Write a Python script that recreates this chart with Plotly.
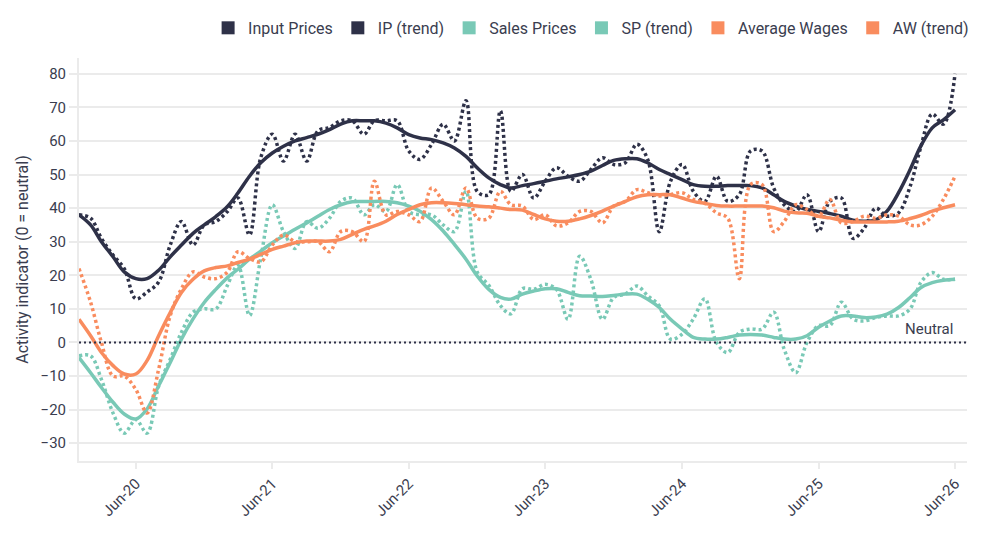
import pandas as pd
import plotly.graph_objects as go

# Monthly observations, Jan-2020 .. Jun-2026
months = pd.date_range("2020-01-01", "2026-06-01", freq="MS")

input_prices = [38, 37, 31, 26, 22, 13, 15, 18, 29, 36, 29, 35, 36, 39,
                43, 32, 55, 62, 54, 62, 54, 63, 64, 66, 66, 62,
                66, 66, 66, 57, 54.5, 59, 65, 60, 72, 45, 44, 69, 45,
                50, 43, 48, 52, 49.5, 48, 51.5, 55, 53, 53.5, 59, 54.5, 33,
                48, 53, 45, 42, 49.5, 42, 44, 57, 57, 46, 41, 39,
                44, 33, 42, 43, 31, 34, 40, 37.6, 38.6, 46.5, 58, 68, 65, 80]
ip_trend = [38, 35, 30, 25.5, 21, 19, 19, 21.5, 25.5, 29, 32.5, 35, 37.5, 40.5,
            44.5, 49.5, 53.5, 56.4, 58.4, 60, 61, 62, 63.4, 65, 66, 66,
            66, 65.3, 63.9, 61.9, 60.9, 60.4, 59.4, 57.9, 55.4, 52, 49, 47, 46,
            46.7, 47.3, 48, 48.7, 49.3, 50, 51, 52.7, 54.2, 54.7, 54.7, 53.5, 51.5,
            50, 48.5, 47, 46.5, 46.5, 46.7, 46.7, 46.7, 46, 44, 42, 40.6,
            39.6, 39, 38.4, 37.6, 36.4, 36.1, 36.5, 39.1, 44.6, 51.5, 58.4, 63.9, 66.3, 69.3]
sales_prices = [-4, -4, -11, -21, -27, -23, -27, -13, -5, 3, 9, 10, 10, 17,
                23, 8, 25, 41, 33, 28, 36, 34, 37, 42, 43, 38,
                41, 39, 47, 39, 38, 38, 35, 33, 45, 21, 17, 11, 8.5,
                16, 15.8, 17.3, 15.8, 6.9, 25.7, 18.8, 6.9, 13.4, 14.4, 16.8, 13.9, 10.9,
                1, 2.5, 7, 13, 0, -3, 3, 4, 4, 9, -2, -9,
                0, 5, 5, 12, 7, 6.4, 7.4, 7.9, 7.9, 10, 17.8, 20.8, 18.8, 18.8]
sp_trend = [-4.5, -9, -13.4, -17.8, -21.3, -22.8, -19.8, -12.9, -6, 1, 7, 11.9, 15.8, 19.3,
            21.8, 24.8, 27.2, 29.7, 31.7, 33.7, 35.6, 37.6, 39.6, 41, 41.9, 42,
            42, 42, 41.6, 40.6, 39.1, 36.6, 33.2, 29.2, 24.8, 19.8, 15.8, 13.4, 12.9,
            14.4, 15.3, 16, 16, 14.9, 13.9, 13.8, 13.7, 14, 14.4, 14.4, 12.9, 10.4,
            6.9, 4, 1.5, 1, 1, 1.5, 2.2, 2.4, 2.2, 1.5, 1, 1,
            2, 4.5, 6.4, 7.9, 7.9, 7.4, 7.6, 8.4, 10.4, 13.4, 16.3, 17.8, 18.5, 18.8]
average_wages = [22, 12, 0, -10, -10, -14, -21, -8, 8, 16, 21, 19.5, 19, 21,
                 27, 25, 24, 29, 32, 30, 30, 30, 27, 33, 33, 30,
                 48, 38, 39, 38, 36, 46, 42, 38, 46, 37, 37, 45, 41,
                 40.6, 36.6, 38, 34.7, 35.6, 39, 39, 35.6, 40.6, 42, 45.5, 44.6, 43.6,
                 44, 44.6, 42.6, 41.5, 38.6, 37, 19, 47, 47, 33, 36, 41,
                 39.6, 37.6, 42.6, 35.6, 36, 37.6, 37, 38, 37.6, 35, 35, 37.6, 42.6, 49.5]
aw_trend = [6.9, 2, -3, -6.9, -9.4, -9.4, -5.4, 2, 8.9, 14.9, 18.8, 21.3, 22.3, 22.8,
            23.8, 24.8, 26.2, 27.7, 28.7, 29.7, 30.2, 30.2, 30.2, 30.7, 32.2, 33.7,
            34.7, 36.1, 38.1, 39.6, 41, 41.6, 41.6, 41.4, 41, 40.6, 40.4, 40, 39.6,
            39.4, 38.1, 36.8, 36.1, 36.1, 36.8, 37.8, 39.1, 40.6, 42, 43.4, 44, 44,
            44, 43, 42, 41.4, 40.8, 40.6, 40.6, 40.6, 40.6, 40.1, 39.1, 38.6,
            38.5, 37.6, 37.1, 36.4, 35.9, 35.9, 35.9, 35.9, 36.1, 36.9, 37.8, 39.1, 40.1, 41]

NAVY = "#2E3148"
TEAL = "#79C9B6"
ORANGE = "#F98C5E"
TEXT = "#3a3d4f"
GRID = "#ebebeb"

series = [
    ("Input Prices", input_prices, NAVY, "3px,3px", 3.5),
    ("IP (trend)", ip_trend, NAVY, "solid", 3.5),
    ("Sales Prices", sales_prices, TEAL, "3px,3px", 3.5),
    ("SP (trend)", sp_trend, TEAL, "solid", 3.5),
    ("Average Wages", average_wages, ORANGE, "3px,3px", 3.5),
    ("AW (trend)", aw_trend, ORANGE, "solid", 3.5),
]

fig = go.Figure()
for name, vals, col, dash, w in series:
    fig.add_trace(go.Scatter(x=months, y=vals, mode="lines", name=name,
                             line=dict(color=col, width=w, dash=dash, shape="spline", smoothing=1),
                             showlegend=False, hoverinfo="x+y"))
# legend entries (square swatches)
for name, vals, col, dash, w in series:
    fig.add_trace(go.Scatter(x=[None], y=[None], mode="markers", name=name,
                             marker=dict(symbol="square", size=13, color=col)))

fig.add_shape(type="line", xref="paper", x0=0, x1=1, yref="y", y0=0, y1=0,
              line=dict(color=NAVY, width=2, dash="2px,3px"), layer="above")
fig.add_annotation(x=pd.Timestamp("2026-06-01"), y=0, xref="x", yref="y",
                   text="Neutral", showarrow=False, xanchor="right", yanchor="bottom",
                   yshift=2, font=dict(size=15, color=TEXT, family="Roboto"))

fig.update_layout(
    width=992, height=539,
    margin=dict(l=79, r=25, t=57, b=78),
    paper_bgcolor="white", plot_bgcolor="white",
    font=dict(family="Roboto", size=15, color=TEXT),
    legend=dict(orientation="h", x=1.008, xanchor="right", y=1.072, yanchor="middle",
                font=dict(size=16, color=TEXT), bgcolor="rgba(0,0,0,0)",
                itemwidth=30, tracegroupgap=0),
    xaxis=dict(range=[pd.Timestamp("2020-01-01"), pd.Timestamp("2026-07-03")],
               tick0="2020-06-01", dtick="M12", tickformat="%b-%y", tickangle=-45,
               showgrid=False, showline=True, linecolor=GRID, linewidth=2,
               ticks="outside", ticklen=6, tickcolor=GRID, tickwidth=2,
               tickfont=dict(size=15, color=TEXT), zeroline=False),
    yaxis=dict(range=[-35.3, 84.7], dtick=10, tick0=0, showgrid=True, gridcolor=GRID, gridwidth=2,
               showline=True, linecolor=GRID, linewidth=2, zeroline=False,
               ticks="outside", ticklen=8, tickcolor=GRID, tickwidth=2,
               tickfont=dict(size=15, color=TEXT),
               title=dict(text="Activity indicator (0 = neutral)", font=dict(size=16, color=TEXT), standoff=8)),
    showlegend=True,
)

fig.write_html("out.html")
